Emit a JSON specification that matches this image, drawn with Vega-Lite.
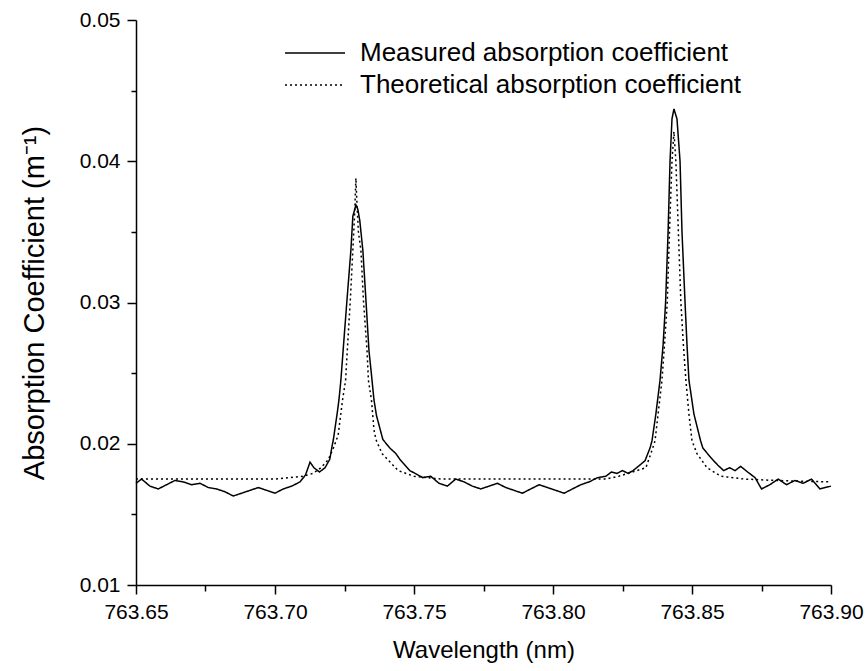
{
  "$schema": "https://vega.github.io/schema/vega-lite/v6.json",
  "width": 695,
  "height": 565,
  "autosize": "none",
  "padding": {"left": 136, "top": 20, "right": 35, "bottom": 86},
  "background": "white",
  "config": {
    "font": "Liberation Sans",
    "view": {"stroke": null},
    "axis": {
      "grid": false,
      "domainColor": "black",
      "domainWidth": 1.5,
      "tickColor": "black",
      "tickWidth": 1.5,
      "labelColor": "black",
      "labelFontSize": 21,
      "labelPadding": 7,
      "labelOverlap": false,
      "labelFlush": false,
      "titleColor": "black",
      "titleFontWeight": "normal"
    }
  },
  "data": {
    "values": [
      {"wl": 763.650, "k": 0.0172, "series": "Measured absorption coefficient"},
      {"wl": 763.652, "k": 0.0175, "series": "Measured absorption coefficient"},
      {"wl": 763.655, "k": 0.0170, "series": "Measured absorption coefficient"},
      {"wl": 763.658, "k": 0.0168, "series": "Measured absorption coefficient"},
      {"wl": 763.661, "k": 0.0171, "series": "Measured absorption coefficient"},
      {"wl": 763.664, "k": 0.0174, "series": "Measured absorption coefficient"},
      {"wl": 763.667, "k": 0.0173, "series": "Measured absorption coefficient"},
      {"wl": 763.670, "k": 0.0171, "series": "Measured absorption coefficient"},
      {"wl": 763.673, "k": 0.0172, "series": "Measured absorption coefficient"},
      {"wl": 763.676, "k": 0.0169, "series": "Measured absorption coefficient"},
      {"wl": 763.679, "k": 0.0168, "series": "Measured absorption coefficient"},
      {"wl": 763.682, "k": 0.0166, "series": "Measured absorption coefficient"},
      {"wl": 763.685, "k": 0.0163, "series": "Measured absorption coefficient"},
      {"wl": 763.688, "k": 0.0165, "series": "Measured absorption coefficient"},
      {"wl": 763.691, "k": 0.0167, "series": "Measured absorption coefficient"},
      {"wl": 763.694, "k": 0.0169, "series": "Measured absorption coefficient"},
      {"wl": 763.697, "k": 0.0167, "series": "Measured absorption coefficient"},
      {"wl": 763.700, "k": 0.0165, "series": "Measured absorption coefficient"},
      {"wl": 763.703, "k": 0.0168, "series": "Measured absorption coefficient"},
      {"wl": 763.706, "k": 0.0170, "series": "Measured absorption coefficient"},
      {"wl": 763.709, "k": 0.0173, "series": "Measured absorption coefficient"},
      {"wl": 763.711, "k": 0.0178, "series": "Measured absorption coefficient"},
      {"wl": 763.7126, "k": 0.0187, "series": "Measured absorption coefficient"},
      {"wl": 763.714, "k": 0.0183, "series": "Measured absorption coefficient"},
      {"wl": 763.716, "k": 0.0180, "series": "Measured absorption coefficient"},
      {"wl": 763.718, "k": 0.0183, "series": "Measured absorption coefficient"},
      {"wl": 763.7197, "k": 0.0189, "series": "Measured absorption coefficient"},
      {"wl": 763.7205, "k": 0.0198, "series": "Measured absorption coefficient"},
      {"wl": 763.7210, "k": 0.0203, "series": "Measured absorption coefficient"},
      {"wl": 763.7224, "k": 0.0222, "series": "Measured absorption coefficient"},
      {"wl": 763.7230, "k": 0.0231, "series": "Measured absorption coefficient"},
      {"wl": 763.7237, "k": 0.0245, "series": "Measured absorption coefficient"},
      {"wl": 763.7245, "k": 0.0266, "series": "Measured absorption coefficient"},
      {"wl": 763.7259, "k": 0.0302, "series": "Measured absorption coefficient"},
      {"wl": 763.7273, "k": 0.0337, "series": "Measured absorption coefficient"},
      {"wl": 763.7280, "k": 0.0361, "series": "Measured absorption coefficient"},
      {"wl": 763.7291, "k": 0.0369, "series": "Measured absorption coefficient"},
      {"wl": 763.7298, "k": 0.0366, "series": "Measured absorption coefficient"},
      {"wl": 763.7305, "k": 0.0358, "series": "Measured absorption coefficient"},
      {"wl": 763.7316, "k": 0.0337, "series": "Measured absorption coefficient"},
      {"wl": 763.7327, "k": 0.0302, "series": "Measured absorption coefficient"},
      {"wl": 763.7338, "k": 0.0266, "series": "Measured absorption coefficient"},
      {"wl": 763.7349, "k": 0.0245, "series": "Measured absorption coefficient"},
      {"wl": 763.7356, "k": 0.0231, "series": "Measured absorption coefficient"},
      {"wl": 763.7365, "k": 0.0220, "series": "Measured absorption coefficient"},
      {"wl": 763.7388, "k": 0.0203, "series": "Measured absorption coefficient"},
      {"wl": 763.7413, "k": 0.0197, "series": "Measured absorption coefficient"},
      {"wl": 763.7435, "k": 0.0193, "series": "Measured absorption coefficient"},
      {"wl": 763.7449, "k": 0.0189, "series": "Measured absorption coefficient"},
      {"wl": 763.7485, "k": 0.0181, "series": "Measured absorption coefficient"},
      {"wl": 763.7532, "k": 0.0176, "series": "Measured absorption coefficient"},
      {"wl": 763.756, "k": 0.0177, "series": "Measured absorption coefficient"},
      {"wl": 763.759, "k": 0.0172, "series": "Measured absorption coefficient"},
      {"wl": 763.762, "k": 0.0170, "series": "Measured absorption coefficient"},
      {"wl": 763.765, "k": 0.0175, "series": "Measured absorption coefficient"},
      {"wl": 763.768, "k": 0.0173, "series": "Measured absorption coefficient"},
      {"wl": 763.771, "k": 0.0170, "series": "Measured absorption coefficient"},
      {"wl": 763.774, "k": 0.0168, "series": "Measured absorption coefficient"},
      {"wl": 763.777, "k": 0.0170, "series": "Measured absorption coefficient"},
      {"wl": 763.780, "k": 0.0172, "series": "Measured absorption coefficient"},
      {"wl": 763.783, "k": 0.0169, "series": "Measured absorption coefficient"},
      {"wl": 763.786, "k": 0.0167, "series": "Measured absorption coefficient"},
      {"wl": 763.789, "k": 0.0165, "series": "Measured absorption coefficient"},
      {"wl": 763.792, "k": 0.0168, "series": "Measured absorption coefficient"},
      {"wl": 763.795, "k": 0.0171, "series": "Measured absorption coefficient"},
      {"wl": 763.798, "k": 0.0169, "series": "Measured absorption coefficient"},
      {"wl": 763.801, "k": 0.0167, "series": "Measured absorption coefficient"},
      {"wl": 763.804, "k": 0.0165, "series": "Measured absorption coefficient"},
      {"wl": 763.807, "k": 0.0168, "series": "Measured absorption coefficient"},
      {"wl": 763.810, "k": 0.0171, "series": "Measured absorption coefficient"},
      {"wl": 763.813, "k": 0.0173, "series": "Measured absorption coefficient"},
      {"wl": 763.816, "k": 0.0176, "series": "Measured absorption coefficient"},
      {"wl": 763.819, "k": 0.0177, "series": "Measured absorption coefficient"},
      {"wl": 763.821, "k": 0.0180, "series": "Measured absorption coefficient"},
      {"wl": 763.823, "k": 0.0179, "series": "Measured absorption coefficient"},
      {"wl": 763.825, "k": 0.0181, "series": "Measured absorption coefficient"},
      {"wl": 763.827, "k": 0.0179, "series": "Measured absorption coefficient"},
      {"wl": 763.8288, "k": 0.0181, "series": "Measured absorption coefficient"},
      {"wl": 763.8313, "k": 0.0185, "series": "Measured absorption coefficient"},
      {"wl": 763.8331, "k": 0.0188, "series": "Measured absorption coefficient"},
      {"wl": 763.8349, "k": 0.0197, "series": "Measured absorption coefficient"},
      {"wl": 763.8356, "k": 0.0202, "series": "Measured absorption coefficient"},
      {"wl": 763.8370, "k": 0.0221, "series": "Measured absorption coefficient"},
      {"wl": 763.8385, "k": 0.0245, "series": "Measured absorption coefficient"},
      {"wl": 763.8396, "k": 0.0270, "series": "Measured absorption coefficient"},
      {"wl": 763.8405, "k": 0.0300, "series": "Measured absorption coefficient"},
      {"wl": 763.8414, "k": 0.0350, "series": "Measured absorption coefficient"},
      {"wl": 763.8421, "k": 0.0400, "series": "Measured absorption coefficient"},
      {"wl": 763.8428, "k": 0.0430, "series": "Measured absorption coefficient"},
      {"wl": 763.8435, "k": 0.0437, "series": "Measured absorption coefficient"},
      {"wl": 763.8446, "k": 0.0430, "series": "Measured absorption coefficient"},
      {"wl": 763.8457, "k": 0.0400, "series": "Measured absorption coefficient"},
      {"wl": 763.8464, "k": 0.0350, "series": "Measured absorption coefficient"},
      {"wl": 763.8475, "k": 0.0300, "series": "Measured absorption coefficient"},
      {"wl": 763.8482, "k": 0.0270, "series": "Measured absorption coefficient"},
      {"wl": 763.8489, "k": 0.0245, "series": "Measured absorption coefficient"},
      {"wl": 763.8507, "k": 0.0221, "series": "Measured absorption coefficient"},
      {"wl": 763.8531, "k": 0.0202, "series": "Measured absorption coefficient"},
      {"wl": 763.8539, "k": 0.0197, "series": "Measured absorption coefficient"},
      {"wl": 763.8560, "k": 0.0192, "series": "Measured absorption coefficient"},
      {"wl": 763.8578, "k": 0.0188, "series": "Measured absorption coefficient"},
      {"wl": 763.8592, "k": 0.0185, "series": "Measured absorption coefficient"},
      {"wl": 763.8614, "k": 0.0181, "series": "Measured absorption coefficient"},
      {"wl": 763.8635, "k": 0.0183, "series": "Measured absorption coefficient"},
      {"wl": 763.8655, "k": 0.0181, "series": "Measured absorption coefficient"},
      {"wl": 763.8675, "k": 0.0184, "series": "Measured absorption coefficient"},
      {"wl": 763.8700, "k": 0.0180, "series": "Measured absorption coefficient"},
      {"wl": 763.8727, "k": 0.0176, "series": "Measured absorption coefficient"},
      {"wl": 763.875, "k": 0.0168, "series": "Measured absorption coefficient"},
      {"wl": 763.878, "k": 0.0171, "series": "Measured absorption coefficient"},
      {"wl": 763.881, "k": 0.0175, "series": "Measured absorption coefficient"},
      {"wl": 763.884, "k": 0.0171, "series": "Measured absorption coefficient"},
      {"wl": 763.887, "k": 0.0174, "series": "Measured absorption coefficient"},
      {"wl": 763.890, "k": 0.0172, "series": "Measured absorption coefficient"},
      {"wl": 763.893, "k": 0.0175, "series": "Measured absorption coefficient"},
      {"wl": 763.896, "k": 0.0168, "series": "Measured absorption coefficient"},
      {"wl": 763.900, "k": 0.0170, "series": "Measured absorption coefficient"},

      {"wl": 763.650, "k": 0.0175, "series": "Theoretical absorption coefficient"},
      {"wl": 763.680, "k": 0.0175, "series": "Theoretical absorption coefficient"},
      {"wl": 763.700, "k": 0.0175, "series": "Theoretical absorption coefficient"},
      {"wl": 763.705, "k": 0.0176, "series": "Theoretical absorption coefficient"},
      {"wl": 763.710, "k": 0.0177, "series": "Theoretical absorption coefficient"},
      {"wl": 763.7137, "k": 0.0179, "series": "Theoretical absorption coefficient"},
      {"wl": 763.7165, "k": 0.0183, "series": "Theoretical absorption coefficient"},
      {"wl": 763.7191, "k": 0.01885, "series": "Theoretical absorption coefficient"},
      {"wl": 763.7210, "k": 0.0197, "series": "Theoretical absorption coefficient"},
      {"wl": 763.7227, "k": 0.0206, "series": "Theoretical absorption coefficient"},
      {"wl": 763.7243, "k": 0.0231, "series": "Theoretical absorption coefficient"},
      {"wl": 763.7254, "k": 0.0245, "series": "Theoretical absorption coefficient"},
      {"wl": 763.7260, "k": 0.0266, "series": "Theoretical absorption coefficient"},
      {"wl": 763.7271, "k": 0.0302, "series": "Theoretical absorption coefficient"},
      {"wl": 763.7280, "k": 0.0337, "series": "Theoretical absorption coefficient"},
      {"wl": 763.7287, "k": 0.0365, "series": "Theoretical absorption coefficient"},
      {"wl": 763.7291, "k": 0.0388, "series": "Theoretical absorption coefficient"},
      {"wl": 763.7295, "k": 0.0369, "series": "Theoretical absorption coefficient"},
      {"wl": 763.7300, "k": 0.0350, "series": "Theoretical absorption coefficient"},
      {"wl": 763.7309, "k": 0.0337, "series": "Theoretical absorption coefficient"},
      {"wl": 763.7318, "k": 0.0302, "series": "Theoretical absorption coefficient"},
      {"wl": 763.7331, "k": 0.0266, "series": "Theoretical absorption coefficient"},
      {"wl": 763.7336, "k": 0.0245, "series": "Theoretical absorption coefficient"},
      {"wl": 763.7347, "k": 0.0231, "series": "Theoretical absorption coefficient"},
      {"wl": 763.7356, "k": 0.0210, "series": "Theoretical absorption coefficient"},
      {"wl": 763.7363, "k": 0.0203, "series": "Theoretical absorption coefficient"},
      {"wl": 763.7385, "k": 0.0193, "series": "Theoretical absorption coefficient"},
      {"wl": 763.7407, "k": 0.01885, "series": "Theoretical absorption coefficient"},
      {"wl": 763.7443, "k": 0.0181, "series": "Theoretical absorption coefficient"},
      {"wl": 763.750, "k": 0.0177, "series": "Theoretical absorption coefficient"},
      {"wl": 763.755, "k": 0.0176, "series": "Theoretical absorption coefficient"},
      {"wl": 763.760, "k": 0.0175, "series": "Theoretical absorption coefficient"},
      {"wl": 763.800, "k": 0.0175, "series": "Theoretical absorption coefficient"},
      {"wl": 763.819, "k": 0.0175, "series": "Theoretical absorption coefficient"},
      {"wl": 763.8237, "k": 0.0177, "series": "Theoretical absorption coefficient"},
      {"wl": 763.8334, "k": 0.0183, "series": "Theoretical absorption coefficient"},
      {"wl": 763.8352, "k": 0.0193, "series": "Theoretical absorption coefficient"},
      {"wl": 763.8367, "k": 0.0202, "series": "Theoretical absorption coefficient"},
      {"wl": 763.8378, "k": 0.0221, "series": "Theoretical absorption coefficient"},
      {"wl": 763.8392, "k": 0.0245, "series": "Theoretical absorption coefficient"},
      {"wl": 763.8401, "k": 0.0270, "series": "Theoretical absorption coefficient"},
      {"wl": 763.8411, "k": 0.0300, "series": "Theoretical absorption coefficient"},
      {"wl": 763.8419, "k": 0.0350, "series": "Theoretical absorption coefficient"},
      {"wl": 763.8428, "k": 0.0400, "series": "Theoretical absorption coefficient"},
      {"wl": 763.8435, "k": 0.0421, "series": "Theoretical absorption coefficient"},
      {"wl": 763.8442, "k": 0.0400, "series": "Theoretical absorption coefficient"},
      {"wl": 763.8451, "k": 0.0350, "series": "Theoretical absorption coefficient"},
      {"wl": 763.8460, "k": 0.0300, "series": "Theoretical absorption coefficient"},
      {"wl": 763.8469, "k": 0.0270, "series": "Theoretical absorption coefficient"},
      {"wl": 763.8478, "k": 0.0245, "series": "Theoretical absorption coefficient"},
      {"wl": 763.8489, "k": 0.0221, "series": "Theoretical absorption coefficient"},
      {"wl": 763.8500, "k": 0.0202, "series": "Theoretical absorption coefficient"},
      {"wl": 763.8518, "k": 0.0193, "series": "Theoretical absorption coefficient"},
      {"wl": 763.8554, "k": 0.0183, "series": "Theoretical absorption coefficient"},
      {"wl": 763.8604, "k": 0.0177, "series": "Theoretical absorption coefficient"},
      {"wl": 763.869, "k": 0.0175, "series": "Theoretical absorption coefficient"},
      {"wl": 763.880, "k": 0.0174, "series": "Theoretical absorption coefficient"},
      {"wl": 763.900, "k": 0.0173, "series": "Theoretical absorption coefficient"}
    ]
  },
  "mark": {"type": "line", "color": "black", "strokeWidth": 1.5, "interpolate": "linear"},
  "encoding": {
    "x": {
      "field": "wl",
      "type": "quantitative",
      "title": "Wavelength (nm)",
      "scale": {"domain": [763.65, 763.9], "nice": false, "zero": false},
      "axis": {
        "values": [763.65, 763.675, 763.7, 763.725, 763.75, 763.775, 763.8, 763.825, 763.85, 763.875, 763.9],
        "labelExpr": "round(datum.value*40) % 2 == 1 ? '' : format(datum.value, '.2f')",
        "tickSize": {"condition": {"test": "round(datum.value*40) % 2 == 1", "value": 6}, "value": 9},
        "titleFontSize": 24,
        "titlePadding": 16
      }
    },
    "y": {
      "field": "k",
      "type": "quantitative",
      "title": "Absorption Coefficient (m⁻¹)",
      "scale": {"domain": [0.01, 0.05], "nice": false, "zero": false},
      "axis": {
        "values": [0.01, 0.015, 0.02, 0.025, 0.03, 0.035, 0.04, 0.045, 0.05],
        "labelExpr": "round(datum.value*200) % 2 == 1 ? '' : format(datum.value, '.2f')",
        "tickSize": {"condition": {"test": "round(datum.value*200) % 2 == 1", "value": 5}, "value": 9},
        "titleFontSize": 29,
        "titlePadding": 30
      }
    },
    "strokeDash": {
      "field": "series",
      "type": "nominal",
      "scale": {
        "domain": ["Measured absorption coefficient", "Theoretical absorption coefficient"],
        "range": [[1, 0], [2, 3]]
      },
      "legend": {
        "title": null,
        "orient": "none",
        "legendX": 163,
        "legendY": 17,
        "padding": 0,
        "symbolType": "M-2,0H2",
        "symbolSize": 900,
        "symbolStrokeColor": "black",
        "symbolStrokeWidth": 1.5,
        "symbolFillColor": "transparent",
        "labelFontSize": 26,
        "labelColor": "black",
        "labelOffset": 29,
        "rowPadding": 3,
        "labelLimit": 600
      }
    }
  }
}
